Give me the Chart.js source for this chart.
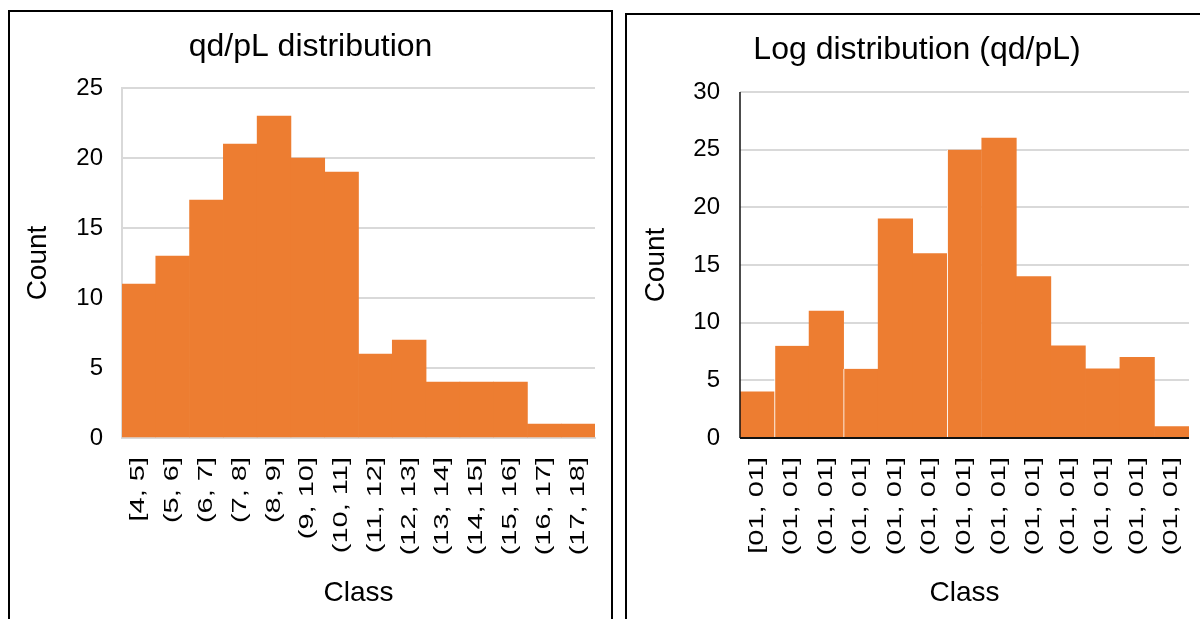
<!DOCTYPE html>
<html>
<head>
<meta charset="utf-8">
<script src="https://cdn.jsdelivr.net/npm/chart.js@4.4.0/dist/chart.umd.min.js"></script>
<style>
  html, body { margin: 0; padding: 0; background: #fff; overflow: hidden; }
  .frame { position: absolute; border: 2px solid #000; background: #fff; }
  #frameLinear { left: 8px; top: 10px; width: 601px; height: 640px; }
  #frameLog { left: 625px; top: 13px; width: 580px; height: 640px; }
  canvas { display: block; }
</style>
</head>
<body>
<div class="frame" id="frameLinear"><canvas id="linearChart" width="601" height="607"></canvas></div>
<div class="frame" id="frameLog"><canvas id="logChart" width="580" height="604"></canvas></div>
<script>
// Histogram of qd/pL values
const linearClasses = ['[4, 5]', '(5, 6]', '(6, 7]', '(7, 8]', '(8, 9]', '(9, 10]', '(10, 11]',
                       '(11, 12]', '(12, 13]', '(13, 14]', '(14, 15]', '(15, 16]', '(16, 17]', '(17, 18]'];
const linearCounts = [11, 13, 17, 21, 23, 20, 19, 6, 7, 4, 4, 4, 1, 1];
const linearYTicks = [0, 5, 10, 15, 20, 25];

// Histogram of log(qd/pL) values
const logClasses = ['[01, 01]', '(01, 01]', '(01, 01]', '(01, 01]', '(01, 01]', '(01, 01]', '(01, 01]',
                    '(01, 01]', '(01, 01]', '(01, 01]', '(01, 01]', '(01, 01]', '(01, 01]'];
const logCounts = [4, 8, 11, 6, 19, 16, 25, 26, 14, 8, 6, 7, 1];
const logYTicks = [0, 5, 10, 15, 20, 25, 30];

const FONT = '"Liberation Sans", Arial, Helvetica, sans-serif';
const BAR = '#ED7D31';
const GRID = '#d9d9d9';

// Rotated, horizontally stretched class labels under the bars
const classLabelPlugin = {
  id: 'classLabels',
  afterDraw(chart, args, opts) {
    const xs = chart.scales.x;
    const ctx = chart.ctx;
    const top = chart.chartArea.bottom + opts.gap;
    ctx.save();
    ctx.font = opts.size + 'px ' + FONT;
    ctx.fillStyle = '#000';
    ctx.textAlign = 'right';
    ctx.textBaseline = 'middle';
    chart.data.labels.forEach((label, i) => {
      const x = xs.getPixelForValue(i);
      ctx.save();
      ctx.translate(x, top);
      ctx.rotate(-Math.PI / 2);
      ctx.scale(opts.stretch, 1);
      ctx.fillText(label, 0, 0);
      ctx.restore();
    });
    ctx.restore();
  }
};

// Dark axis lines drawn above the bars
const axisLinePlugin = {
  id: 'axisLines',
  afterDatasetsDraw(chart, args, opts) {
    if (!opts.enabled) return;
    const ctx = chart.ctx;
    const ys = chart.scales.y;
    const { left, right, top } = chart.chartArea;
    const base = ys.getPixelForValue(0);
    ctx.save();
    ctx.strokeStyle = opts.color;
    ctx.lineWidth = opts.yWidth;
    ctx.beginPath();
    ctx.moveTo(left, top);
    ctx.lineTo(left, base);
    ctx.stroke();
    ctx.lineWidth = opts.xWidth;
    ctx.beginPath();
    ctx.moveTo(left, base);
    ctx.lineTo(right, base);
    ctx.stroke();
    ctx.restore();
  }
};

function histogram(canvasId, cfg) {
  return new Chart(document.getElementById(canvasId), {
    type: 'bar',
    data: {
      labels: cfg.labels,
      datasets: [{
        data: cfg.values,
        backgroundColor: BAR,
        borderColor: '#ffffff',
        borderWidth: cfg.seams
          ? (c) => (cfg.seams.includes(c.dataIndex) ? { left: 1, right: 0, top: 0, bottom: 0 } : 0)
          : 0,
        borderSkipped: false,
        barPercentage: 1,
        categoryPercentage: 1
      }]
    },
    options: {
      responsive: false,
      animation: false,
      devicePixelRatio: 1,
      layout: { padding: { left: cfg.padSide, right: cfg.padSide, top: 0, bottom: 0 } },
      plugins: {
        legend: { display: false },
        tooltip: { enabled: false },
        title: {
          display: true,
          text: cfg.title,
          color: '#000',
          font: { family: FONT, size: 32, weight: 'normal', lineHeight: 1.2 },
          padding: { top: cfg.titleTop, bottom: cfg.titleBottom }
        },
        classLabels: { gap: 19, size: 20, stretch: 1.45 },
        axisLines: cfg.axisLines
      },
      scales: {
        x: {
          type: 'category',
          grid: { display: false },
          border: { display: !cfg.axisLines.enabled, color: GRID, width: 2 },
          ticks: { display: false },
          title: {
            display: true,
            text: 'Class',
            color: '#000',
            font: { family: FONT, size: 28, lineHeight: 1.2 },
            padding: { top: 0, bottom: 9 }
          },
          afterFit: (s) => { s.height = cfg.xHeight; }
        },
        y: {
          min: cfg.yTicks[0],
          max: cfg.yTicks[cfg.yTicks.length - 1],
          afterBuildTicks: (s) => { s.ticks = cfg.yTicks.map((v) => ({ value: v })); },
          grid: { color: GRID, lineWidth: 2, drawTicks: false },
          border: { display: !cfg.axisLines.enabled, color: GRID, width: 2 },
          ticks: {
            color: '#000',
            padding: cfg.tickPad,
            font: { family: FONT, size: 24 }
          },
          title: {
            display: true,
            text: 'Count',
            color: '#000',
            font: { family: FONT, size: 28, lineHeight: 1.2 },
            padding: { top: cfg.yTitlePad, bottom: 0 }
          },
          afterFit: (s) => { s.width = cfg.yWidth; }
        }
      }
    },
    plugins: [classLabelPlugin, axisLinePlugin]
  });
}

histogram('linearChart', {
  title: 'qd/pL distribution',
  labels: linearClasses,
  values: linearCounts,
  yTicks: linearYTicks,
  padSide: 16,
  titleTop: 16,
  titleBottom: 21.6,
  xHeight: 181,
  yWidth: 96,
  tickPad: 19,
  yTitlePad: -5,
  seams: null,
  axisLines: { enabled: false }
});

histogram('logChart', {
  title: 'Log distribution (qd/pL)',
  labels: logClasses,
  values: logCounts,
  yTicks: logYTicks,
  padSide: 18,
  titleTop: 16,
  titleBottom: 22.6,
  xHeight: 181,
  yWidth: 95,
  tickPad: 20,
  yTitlePad: -6,
  seams: [1, 3, 6],
  axisLines: { enabled: true, color: '#111', yWidth: 1.5, xWidth: 2 }
});
</script>
</body>
</html>
